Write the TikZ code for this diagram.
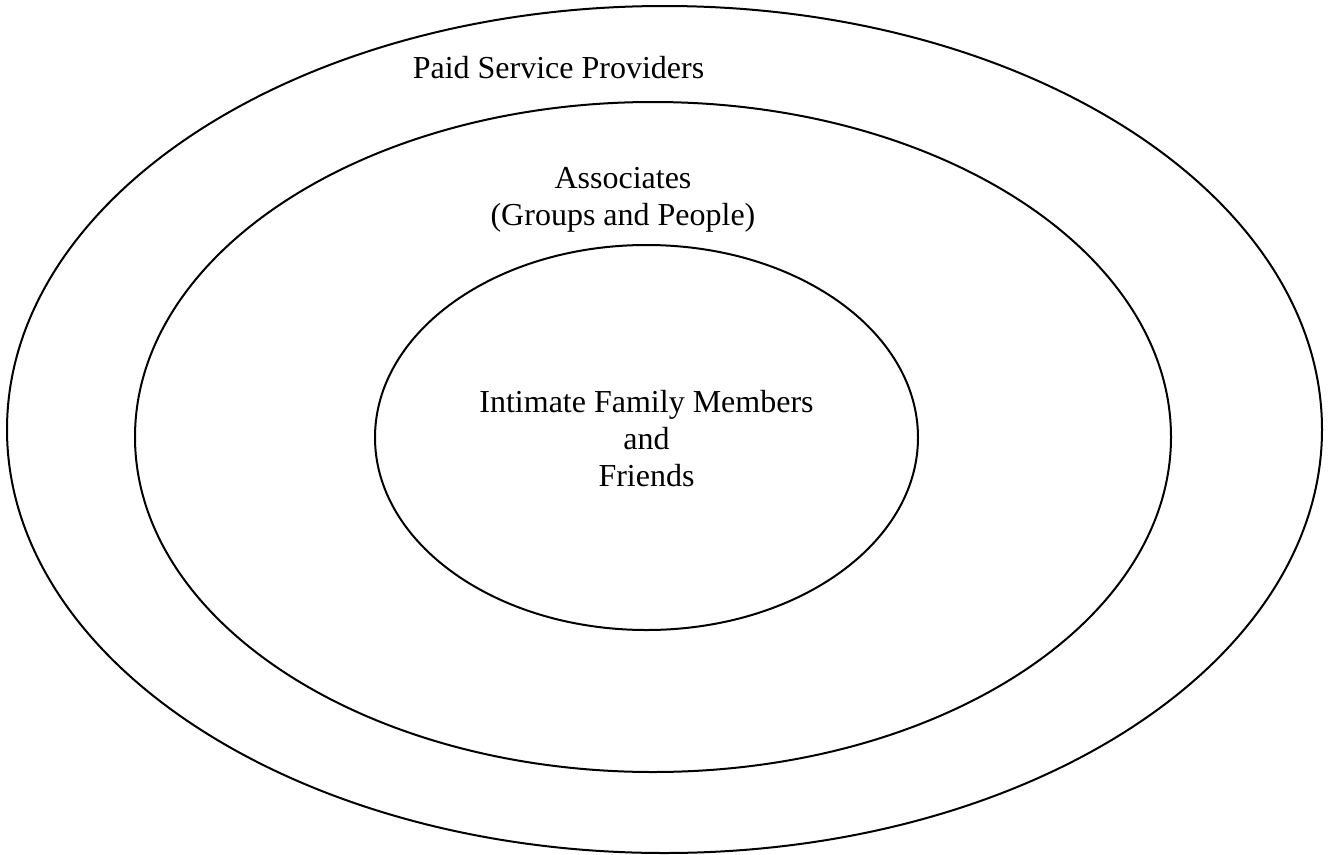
\documentclass[tikz,border=0pt]{standalone}
\usepackage{fontspec}
\setmainfont{Liberation Serif}
\begin{document}
\begin{tikzpicture}[x=1pt,y=-1pt,
  ring/.style={draw=black,line width=2pt},
  lbl/.style={inner sep=0pt,align=center,font=\fontsize{32}{37}\selectfont}]
\useasboundingbox[fill=white] (0,0) rectangle (1333,854);
\draw[ring] (664.5,429.5) ellipse [x radius=657.5, y radius=423.5];
\draw[ring] (653,437) ellipse [x radius=518, y radius=335];
\draw[ring] (646.5,437.5) ellipse [x radius=271.5, y radius=192.5];
\node[lbl,anchor=base] (paid) at (558.5,78) {Paid Service Providers};
\node[lbl] (assoc) at (623,200) {Associates\\(Groups and People)};
\node[lbl] (inner) at (646.5,439) {Intimate Family Members\\and\\Friends};
\end{tikzpicture}
\end{document}
